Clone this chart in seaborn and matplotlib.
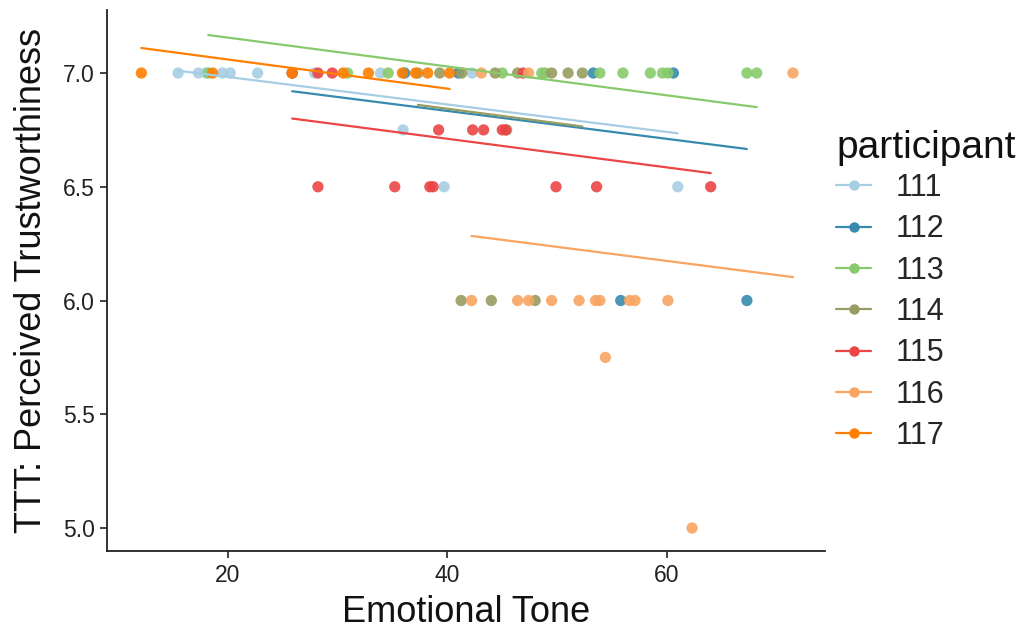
import matplotlib
matplotlib.use("Agg")
import matplotlib.pyplot as plt
from matplotlib.lines import Line2D
import pandas as pd
import seaborn as sns

# Observed emotional tone and perceived trustworthiness per participant
participants = [111, 112, 113, 114, 115, 116, 117]

tone = {
    111: [15.45, 17.3, 18.0, 19.5, 20.2, 22.7, 27.9, 33.9, 42.25, 35.96, 39.7, 61.0],
    112: [25.85, 36.1, 41.0, 53.3, 60.6, 55.8, 67.3],
    113: [18.2, 30.9, 34.6, 45.0, 48.6, 48.9, 53.9, 56.0, 58.5, 59.6, 60.1, 67.3, 68.2],
    114: [37.3, 39.3, 41.3, 44.35, 46.4, 49.5, 51.0, 52.3, 45.4, 41.25, 44.0, 48.0],
    115: [25.85, 28.2, 29.5, 46.9, 39.2, 42.3, 43.3, 45.0, 45.3,
          28.2, 35.2, 38.4, 38.7, 49.9, 53.6, 64.0],
    116: [43.1, 47.4, 71.5, 42.2, 46.4, 47.4, 49.5, 52.0, 53.5, 53.9,
          56.6, 57.1, 60.1, 54.4, 62.3],
    117: [12.1, 18.6, 25.85, 30.5, 32.8, 35.9, 37.1, 38.2, 40.2],
}
trust = {
    111: [7.0, 7.0, 7.0, 7.0, 7.0, 7.0, 7.0, 7.0, 7.0, 6.75, 6.5, 6.5],
    112: [7.0, 7.0, 7.0, 7.0, 7.0, 6.0, 6.0],
    113: [7.0] * 13,
    114: [7.0, 7.0, 7.0, 7.0, 7.0, 7.0, 7.0, 7.0, 6.75, 6.0, 6.0, 6.0],
    115: [7.0, 7.0, 7.0, 7.0, 6.75, 6.75, 6.75, 6.75, 6.75,
          6.5, 6.5, 6.5, 6.5, 6.5, 6.5, 6.5],
    116: [7.0, 7.0, 7.0, 6.0, 6.0, 6.0, 6.0, 6.0, 6.0, 6.0,
          6.0, 6.0, 6.0, 5.75, 5.0],
    117: [7.0] * 9,
}

# Model-predicted trend per participant: tone at both ends and fitted value there
fit_tone = {
    111: [15.45, 61.0], 112: [25.85, 67.3], 113: [18.2, 68.2], 114: [37.3, 52.3],
    115: [25.85, 64.0], 116: [42.2, 71.5], 117: [12.1, 40.2],
}
fit_trust = {
    111: [7.01, 6.735], 112: [6.92, 6.666], 113: [7.167, 6.85], 114: [6.86, 6.765],
    115: [6.80, 6.56], 116: [6.284, 6.103], 117: [7.11, 6.93],
}

palette_hex = ["#A6CEE3", "#378AAD", "#88CA6B", "#979D62", "#EB4546", "#F9A461", "#FF7F00"]

points = pd.concat(
    [pd.DataFrame({"participant": str(p), "tone": tone[p], "trust": trust[p]}) for p in participants],
    ignore_index=True,
)
fits = pd.concat(
    [pd.DataFrame({"participant": str(p), "tone": fit_tone[p], "trust": fit_trust[p]}) for p in participants],
    ignore_index=True,
)

sns.set_theme(style="ticks")
plt.rcParams["font.family"] = ["Liberation Sans", "DejaVu Sans"]

W, H = 1036, 634
fig = plt.figure(figsize=(W / 100, H / 100), dpi=100)
ax = fig.add_axes([107 / W, 83 / H, 718 / W, 541 / H])

order = [str(p) for p in participants]
pal = dict(zip(order, palette_hex))

sns.scatterplot(data=points, x="tone", y="trust", hue="participant", hue_order=order,
                palette=pal, s=66, alpha=0.9, linewidth=0, legend=False, ax=ax, zorder=2)
sns.lineplot(data=fits, x="tone", y="trust", hue="participant", hue_order=order,
             palette=pal, linewidth=1.6, legend=False, ax=ax, zorder=3, estimator=None,
             sort=True)

ax.set_xlim(8.97, 74.42)
ax.set_ylim(4.899, 7.277)
ax.set_xticks([20, 40, 60])
ax.set_yticks([5.0, 5.5, 6.0, 6.5, 7.0])
ax.set_yticklabels(["5.0", "5.5", "6.0", "6.5", "7.0"])
ax.tick_params(axis="both", labelsize=16.5, colors="#222222", length=5, width=1.2,
               direction="out", pad=4)
for side in ["top", "right"]:
    ax.spines[side].set_visible(False)
for side in ["left", "bottom"]:
    ax.spines[side].set_color("#222222")
    ax.spines[side].set_linewidth(1.3)

ax.set_xlabel("Emotional Tone", fontsize=26, color="#111111", labelpad=6)
ax.set_ylabel("TTT: Perceived Trustworthiness", fontsize=26, color="#111111", labelpad=10)

# Legend: title placed as its own text, keys below it
fig.text(836 / W, 1 - 148 / H, "participant", fontsize=28, color="#111111",
         ha="left", va="center")
handles = [
    Line2D([0], [0], color=c, lw=1.6, marker="o", markersize=7.5, markeredgewidth=0)
    for c in palette_hex
]
leg = fig.legend(handles, order, loc="upper left",
                 bbox_to_anchor=(836 / W, 1 - 173 / H), frameon=False, fontsize=22,
                 labelspacing=0.37, handlelength=1.15, handletextpad=0.8,
                 borderpad=0, borderaxespad=0)

fig.savefig("out.png", dpi=100)
